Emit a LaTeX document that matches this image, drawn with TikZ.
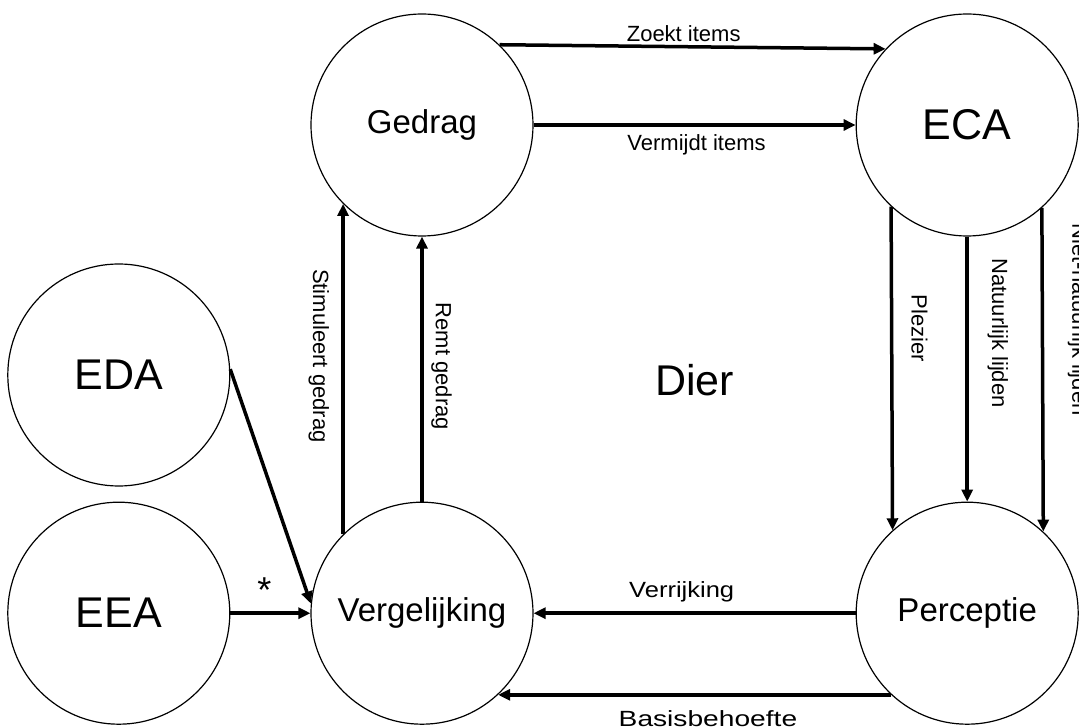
\documentclass[tikz,border=0pt]{standalone}
\usepackage{fontspec}
\setmainfont{Liberation Sans}
\usepackage{tikz}
\usetikzlibrary{arrows.meta, positioning, calc}

\begin{document}
\begin{tikzpicture}[>={Triangle[length=12pt,width=11pt]}, node distance=265pt and 322pt]

        % Styles
        \tikzstyle{ring} = [draw, circle, minimum size=222pt, inner sep=0pt, line width=1.2pt, font=\fontsize{33}{40}\selectfont]
        \tikzstyle{bigring} = [ring, font=\fontsize{43}{52}\selectfont]
        \tikzstyle{thickarrow} = [->, line width=3.5pt]
        \tikzstyle{lbl} = [font=\fontsize{22}{26}\selectfont, anchor=base, inner sep=0pt]
        \tikzstyle{vlbl} = [lbl, rotate=-90]

        \useasboundingbox (-422pt,-602pt) rectangle (657pt,125pt);

        % Square
        \node[ring] (ged) at (0,0) {Gedrag};
        \node[bigring, right=of ged] (eca) {ECA};
        \node[ring, below=of ged] (verg) {Vergelijking};
        \node[ring, below=of eca] (perc) {Perceptie};

        % Left side
        \node[bigring, left=80pt of verg] (eea) {EEA};
        \node[bigring, above=15pt of eea] (eda) {EDA};

        % Middle
        \node[font=\fontsize{43}{52}\selectfont, anchor=base] (dier) at ($(ged)!.5!(perc)+(0,-26.5pt)$) {Dier};

        % Top arrows
        \draw[thickarrow] (ged.46) -- node[lbl, pos=.477, yshift=5pt] {Zoekt items} (eca.137);
        \draw[thickarrow] (ged.east) -- node[lbl, pos=.506, yshift=-26pt] {Vermijdt items} (eca.west);

        % Right arrows
        \draw[thickarrow] (eca.227.5) -- node[xshift=20pt, vlbl, pos=.376] {Plezier} (perc.132.5);
        \draw[thickarrow] (eca.south) -- node[xshift=25pt, vlbl, pos=.364] {Natuurlijk lijden} (perc.north);
        \draw[thickarrow] (eca.312.5) -- node[xshift=30pt, vlbl, pos=.345] {Niet-natuurlijk lijden} (perc.47.5);

        % Bottom arrows
        \draw[thickarrow] (perc.west) -- node[lbl, pos=.54, yshift=16pt, xscale=1.16] {Verrijking} (verg.east);
        \draw[thickarrow] (perc.227) -- node[lbl, pos=.466, yshift=-32pt, xscale=1.28] {Basisbehoefte} (verg.313);

        % Left arrows
        \draw[thickarrow] (verg.135) -- node[xshift=-30pt, vlbl, pos=.54] {Stimuleert gedrag} (ged.225);
        \draw[thickarrow] (verg.north) -- node[xshift=14pt, vlbl, pos=.51] {Remt gedrag} (ged.south);
        \draw[thickarrow] (eda.3) -- (verg.175);
        \draw[thickarrow] (eea.east) -- node[anchor=base, inner sep=0pt, xshift=-6pt, yshift=11pt, font=\fontsize{36}{36}\selectfont] {*} (verg.west);

    \end{tikzpicture}
\end{document}
